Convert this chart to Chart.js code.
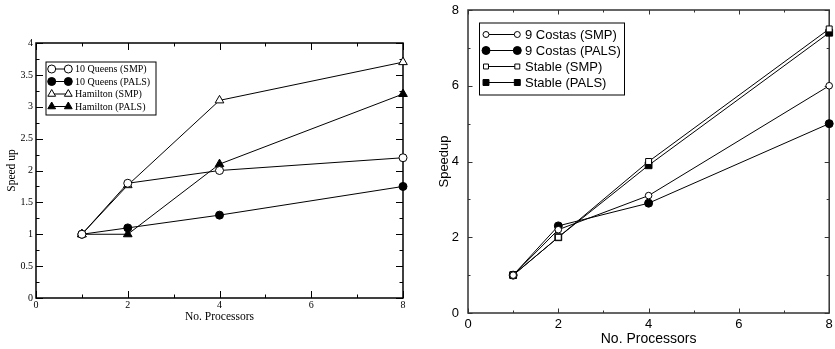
<!DOCTYPE html>
<html>
<head>
<meta charset="utf-8">
<script src="https://cdn.jsdelivr.net/npm/chart.js@4"></script>
<style>
  html, body { margin: 0; padding: 0; background: #fff; }
  #wrap { position: relative; width: 835px; height: 349px; }
  #left { position: absolute; left: 0; top: 0; }
  #right { position: absolute; left: 415px; top: 0; }
</style>
</head>
<body>
<div id="wrap">
  <canvas id="left" width="415" height="349"></canvas>
  <canvas id="right" width="420" height="349"></canvas>
</div>
<script>
// processors (x values)
const procs = [1, 2, 4, 8];

// left chart
const queensSmp = [1, 1.8, 2.0, 2.2];
const queensPals = [1, 1.1, 1.3, 1.75];
const hamiltonSmp = [1, 1.77, 3.1, 3.7];
const hamiltonPals = [1, 1.0, 2.1, 3.2];

// right chart
const costasSmp = [1, 2.2, 3.1, 6.0];
const costasPals = [1, 2.3, 2.9, 5.0];
const stableSmp = [1, 2.0, 4.0, 7.5];
const stablePals = [1, 2.0, 3.9, 7.4];

const pts = ys => procs.map((x, i) => ({ x, y: ys[i] }));

// marker shape, same geometry as chart.js drawPoint
function marker(ctx, style, r, x, y, fill, bw) {
  ctx.beginPath();
  if (style === 'circle') {
    ctx.arc(x, y, r, 0, Math.PI * 2);
  } else if (style === 'triangle') {
    let a = 0;
    for (let k = 0; k < 3; k++) {
      const px = x + Math.sin(a) * r, py = y - Math.cos(a) * r;
      k ? ctx.lineTo(px, py) : ctx.moveTo(px, py);
      a += Math.PI * 2 / 3;
    }
    ctx.closePath();
  } else {
    const s = Math.SQRT1_2 * r;
    ctx.rect(x - s, y - s, 2 * s, 2 * s);
  }
  ctx.fillStyle = fill;
  ctx.fill();
  ctx.lineWidth = bw;
  ctx.strokeStyle = '#000';
  ctx.stroke();
}

// box round the plot + inward ticks on all four sides
const frame = {
  id: 'frame',
  beforeDatasetsDraw(chart, args, o) {
    const { ctx, chartArea: a, scales } = chart;
    ctx.save();
    ctx.strokeStyle = o.color;
    ctx.lineWidth = o.width;
    ctx.strokeRect(a.left, a.top, a.right - a.left, a.bottom - a.top);
    ctx.lineWidth = 1;
    const sx = scales.x, sy = scales.y;
    for (let v = sx.min; v <= sx.max + 1e-9; v += o.xMinor) {
      const major = Math.abs(v / o.xMajor - Math.round(v / o.xMajor)) < 1e-6;
      const len = major ? o.majorLen : o.minorLen;
      const px = Math.round(sx.getPixelForValue(v)) + 0.5;
      ctx.beginPath();
      ctx.moveTo(px, a.bottom); ctx.lineTo(px, a.bottom - len);
      ctx.moveTo(px, a.top); ctx.lineTo(px, a.top + len);
      ctx.stroke();
    }
    for (let v = sy.min; v <= sy.max + 1e-9; v += o.yMinor) {
      const major = Math.abs(v / o.yMajor - Math.round(v / o.yMajor)) < 1e-6;
      const len = major ? o.majorLen : o.minorLen;
      const py = Math.round(sy.getPixelForValue(v)) + 0.5;
      ctx.beginPath();
      ctx.moveTo(a.left, py); ctx.lineTo(a.left + len, py);
      ctx.moveTo(a.right, py); ctx.lineTo(a.right - len, py);
      ctx.stroke();
    }
    ctx.restore();
  }
};

// legend box inside the plot
const boxLegend = {
  id: 'boxLegend',
  afterDatasetsDraw(chart, args, o) {
    const ctx = chart.ctx;
    ctx.save();
    ctx.fillStyle = '#fff';
    ctx.fillRect(o.x, o.y, o.w, o.h);
    ctx.strokeStyle = '#000';
    ctx.lineWidth = 1;
    ctx.strokeRect(o.x + 0.5, o.y + 0.5, o.w, o.h);
    ctx.font = o.font;
    ctx.textBaseline = 'middle';
    chart.data.datasets.forEach((ds, i) => {
      const y = o.y + o.first + i * o.row;
      ctx.beginPath();
      ctx.moveTo(o.x1, y); ctx.lineTo(o.x2, y);
      ctx.strokeStyle = '#000';
      ctx.lineWidth = 1;
      ctx.stroke();
      const r = o.radius[i];
      marker(ctx, ds.pointStyle, r, o.x1, y, ds.pointBackgroundColor, 1);
      marker(ctx, ds.pointStyle, r, o.x2, y, ds.pointBackgroundColor, 1);
      ctx.fillStyle = '#000';
      ctx.fillText(ds.label, o.tx, y + 0.5);
    });
    ctx.restore();
  }
};

function series(label, ys, style, filled, r) {
  return {
    label, data: pts(ys), showLine: true,
    borderColor: '#000', borderWidth: 1,
    pointStyle: style, pointRadius: r, pointHoverRadius: r,
    pointBackgroundColor: filled ? '#000' : '#fff',
    pointBorderColor: '#000', pointBorderWidth: 1,
    clip: false
  };
}

function makeChart(id, cfg) {
  const f = cfg.family;
  return new Chart(document.getElementById(id), {
    type: 'scatter',
    data: { datasets: cfg.datasets },
    options: {
      responsive: false,
      animation: false,
      events: [],
      layout: { padding: cfg.padding },
      plugins: {
        legend: { display: false },
        tooltip: { enabled: false },
        frame: cfg.frame,
        boxLegend: cfg.legend
      },
      scales: {
        x: {
          type: 'linear', min: 0, max: 8,
          grid: { display: false, drawTicks: false },
          border: { display: false },
          ticks: { stepSize: 2, padding: cfg.xPad, color: '#000', font: { family: f, size: cfg.tickSize },
                   callback: v => String(v) },
          title: { display: true, text: 'No. Processors', color: '#000', padding: 0,
                   font: { family: f, size: cfg.xTitleSize } },
          afterFit: s => { s.height = cfg.xH; s.paddingLeft = 0; s.paddingRight = 0; }
        },
        y: {
          type: 'linear', min: 0, max: cfg.yMax,
          grid: { display: false, drawTicks: false },
          border: { display: false },
          ticks: { stepSize: cfg.frame.yMajor, padding: cfg.yPad, color: '#000', font: { family: f, size: cfg.tickSize },
                   callback: v => String(v) },
          title: { display: true, text: cfg.yTitle, color: '#000', padding: { top: cfg.yTitlePad, bottom: 0 },
                   font: { family: f, size: cfg.yTitleSize } },
          afterFit: s => { s.width = cfg.yW; s.paddingTop = 0; s.paddingBottom = 0; }
        }
      }
    },
    plugins: [frame, boxLegend]
  });
}

makeChart('left', {
  family: 'Liberation Serif',
  datasets: [
    series('10 Queens (SMP)', queensSmp, 'circle', false, 4),
    series('10 Queens (PALS)', queensPals, 'circle', true, 4),
    series('Hamilton (SMP)', hamiltonSmp, 'triangle', false, 5),
    series('Hamilton (PALS)', hamiltonPals, 'triangle', true, 5)
  ],
  padding: { left: 0, top: 43, right: 12, bottom: 25 },
  yMax: 4, yW: 36, xH: 26, xPad: 1, yPad: 3,
  tickSize: 10, xTitleSize: 11.5, yTitleSize: 11.5, yTitle: 'Speed up', yTitlePad: 5,
  frame: { color: '#000', width: 1.5, xMajor: 2, xMinor: 1, yMajor: 0.5, yMinor: 0.25, majorLen: 7, minorLen: 3.5 },
  legend: { x: 45.5, y: 61.5, w: 110, h: 53, first: 7.5, row: 12.5, x1: 51.7, x2: 68.3, tx: 75,
            font: '10px "Liberation Serif"', radius: [4, 4, 4.5, 4.5] }
});

makeChart('right', {
  family: 'Liberation Sans',
  datasets: [
    series('9 Costas (SMP)', costasSmp, 'circle', false, 3.3),
    series('9 Costas (PALS)', costasPals, 'circle', true, 4),
    series('Stable (SMP)', stableSmp, 'rect', false, 4.2),
    series('Stable (PALS)', stablePals, 'rect', true, 4.8)
  ],
  padding: { left: 0, top: 10, right: 4, bottom: 1 },
  yMax: 8, yW: 53, xH: 35, xPad: 4, yPad: 9,
  tickSize: 13, xTitleSize: 14, yTitleSize: 13, yTitle: 'Speedup', yTitlePad: 22,
  frame: { color: '#333', width: 1.5, xMajor: 2, xMinor: 1, yMajor: 2, yMinor: 1, majorLen: 4.5, minorLen: 2.5 },
  legend: { x: 64, y: 22.5, w: 145, h: 72, first: 12, row: 16, x1: 71, x2: 102.3, tx: 110,
            font: '13px "Liberation Sans"', radius: [3, 4, 3.5, 4.2] }
});
</script>
</body>
</html>
